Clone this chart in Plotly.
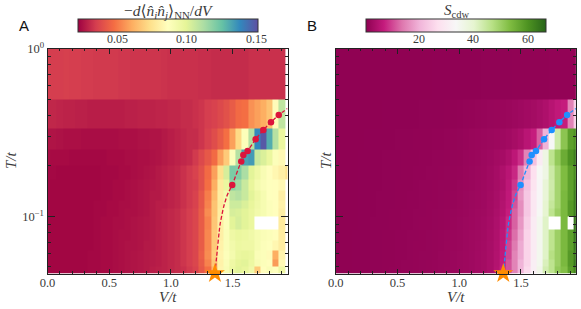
import math
import plotly.graph_objects as go
from plotly.colors import diverging

N = None
W, H = 581, 309

V_centers = [round(i * 0.05, 2) for i in range(40)]
V_edges = [round(-0.025 + i * 0.05, 3) for i in range(41)]
beta_edges = [1, 2, 3, 4, 5, 6, 7, 8, 9, 10, 12, 14, 16, 18, 20, 21.9]
T_edges = [1 / b for b in beta_edges]

# rows run from high T (top) to low T (bottom), columns V/t = 0.00 ... 1.95
dnn = [
 [.035,.035,.035,.0355,.035,.035,.0345,.0345,.034,.034,.034,.034,.0335,.0335,.033,.033,.033,.033,.033,.0325,.032,.032,.032,.032,.032,.0315,.0315,.031,.031,.031,.031,.031,.031,.032,.032,.032,.032,.032,.032,N],
 [.030,.030,.0295,.029,.029,.0285,.0285,.028,.028,.028,.028,.028,.028,.0285,.0285,.029,.029,.029,.0295,.0295,.030,.030,.031,.031,.032,.033,.035,.036,.038,.040,.043,.047,.048,.055,.058,.061,.066,.085,.108,N],
 [.026,.026,.0255,.025,.025,.025,.0245,.0245,.0245,.0245,.0245,.0245,.025,.025,.025,.0255,.0255,.026,.026,.027,.028,.029,.030,.031,.031,.033,.036,.039,.043,.048,.058,.072,.088,.110,.138,.149,.130,.110,.097,N],
 [.0245,.024,.024,.024,.0235,.0235,.0235,.0235,.0235,.0235,.024,.024,.024,.0245,.0245,.025,.025,.0255,.026,.027,.028,.029,.030,.031,.034,.038,.042,.047,.058,.068,.088,.110,.132,.134,.106,.102,.097,.088,.084,N],
 [.0235,.0235,.023,.023,.023,.023,.023,.023,.023,.0235,.0235,.0235,.024,.024,.0245,.025,.0255,.026,.027,.028,.029,.030,.032,.034,.036,.040,.047,.058,.074,.103,.121,.120,.112,.100,.095,.090,.086,.083,.080,.075],
 [.0235,.023,.023,.023,.023,.023,.023,.023,.023,.0235,.0235,.024,.024,.0245,.025,.0255,.026,.0265,.027,.028,.029,.030,.032,.034,.035,.040,.048,.061,.078,.097,.118,.114,.106,.098,.092,.089,.087,.086,.084,N],
 [.0235,.023,.023,.023,.023,.023,.023,.023,.023,.0235,.0235,.024,.024,.0245,.025,.0255,.026,.027,.027,.028,.029,.030,.032,.034,.036,.042,.051,.064,.079,.092,.108,.110,.106,.100,.095,.091,.087,.086,.080,N],
 [.023,.023,.023,.023,.023,.023,.023,.023,.0235,.0235,.024,.024,.0245,.0245,.025,.0255,.026,.027,.028,.028,.029,.030,.032,.034,.036,.042,.052,.066,.078,.090,.105,.105,.102,.098,.094,.091,.088,.086,.081,N],
 [.023,.023,.023,.023,.023,.023,.023,.023,.0235,.0235,.024,.024,.0245,.025,.025,.0255,.026,.027,.028,.029,.030,.031,.033,.035,.037,.043,.054,.066,.079,.088,.103,.102,.100,.097,.093,.091,.088,.086,.080,N],
 [.023,.023,.023,.023,.023,.023,.023,.023,.0235,.024,.024,.0245,.0245,.025,.0255,.026,.0265,.027,.028,.029,.030,.031,.033,.035,.037,.043,.052,.067,.080,.088,.100,.103,.100,.097,N,N,N,N,.078,N],
 [.023,.023,.023,.023,.023,.023,.023,.023,.0235,.024,.024,.0245,.025,.025,.0255,.026,.0265,.027,.028,.029,.030,.031,.033,.035,.037,.043,.053,.068,.080,.089,.095,.097,.096,.094,.091,.089,.088,.086,.079,N],
 [.023,.023,.023,.023,.023,.023,.023,.023,.0235,.024,.024,.0245,.025,.0255,.0255,.026,.027,.027,.028,.029,.030,.031,.033,.035,.037,.043,.053,.068,.081,.089,.093,.096,.095,.095,.091,.088,.087,.083,.079,N],
 [.023,.023,.023,.023,.023,.023,.023,.0235,.0235,.024,.024,.0245,.025,.0255,.026,.0265,.027,.0275,.028,.029,.030,.031,.033,.035,.037,.044,.054,.069,.082,.088,.092,.097,.098,.097,.089,.088,.085,.061,.082,N],
 [.023,.023,.023,.023,.023,.023,.023,.0235,.0235,.024,.024,.0245,.025,.0255,.026,.0265,.027,.0275,.028,.029,.030,.031,.033,.035,.037,.043,.052,.067,.081,.089,.095,.099,.100,.096,.090,.088,.086,.057,.084,N],
 [.023,.023,.023,.023,.023,.023,.023,.0235,.0235,.024,.024,.0245,.025,.0255,.026,.0265,.027,.028,.0285,.029,.030,.031,.032,.034,.036,.042,.048,.063,.082,.090,.096,.100,.098,.094,.068,.086,.089,.087,.095,N],
]

scdw = [
 [.5,.5,.5,.5,.5,.5,.5,.5,.5,.5,.5,.5,.5,.5,.5,.5,.6,.6,.6,.6,.6,.6,.6,.6,.7,.7,.7,.7,.7,.8,.8,.8,.8,.8,.8,.9,.9,.9,.9,.9],
 [.5,.5,.5,.5,.5,.5,.5,.5,.6,.6,.6,.6,.6,.6,.7,.7,.7,.7,.8,.8,.9,1,1.1,1.3,1.4,1.5,1.6,1.7,1.9,2.1,2.4,2.7,3,3.5,4.2,5.2,6.3,7,15,24],
 [.5,.5,.5,.5,.5,.6,.6,.6,.6,.6,.7,.7,.7,.8,.8,.8,.9,.9,1,1.1,1.2,1.4,1.6,1.7,1.9,2,2.2,2.4,2.7,3.3,4,5.5,7,12,20,33.5,44,52,58,60],
 [.5,.5,.5,.5,.6,.6,.6,.6,.7,.7,.7,.8,.8,.8,.9,.9,1,1,1.1,1.2,1.3,1.5,1.7,1.9,2.1,2.4,2.8,3.2,4.2,6,8.5,15,22,30,37,46,51,56,60,63],
 [.5,.5,.5,.5,.6,.6,.6,.6,.7,.7,.7,.8,.8,.9,.9,1,1,1.1,1.2,1.3,1.4,1.6,1.8,2,2.2,2.6,3.2,4.2,5.5,7.8,14,20,27,34,37,44,49,53.5,58,61],
 [.5,.5,.5,.5,.6,.6,.6,.6,.7,.7,.8,.8,.8,.9,1,1,1.1,1.2,1.2,1.3,1.5,1.7,1.9,2.1,2.3,2.7,3.3,4,6,9,16,22,28,33,39,43.5,49,53.5,58,62],
 [.5,.5,.5,.5,.6,.6,.6,.7,.7,.7,.8,.8,.9,.9,1,1,1.1,1.2,1.3,1.4,1.6,1.8,2,2.2,2.4,2.8,3.5,4.5,6.3,10,17,23,29,33,39,44,49,54,58,63],
 [.5,.5,.5,.5,.6,.6,.6,.7,.7,.7,.8,.8,.9,.9,1,1.1,1.1,1.2,1.3,1.4,1.6,1.8,2,2.2,2.4,2.9,3.6,4.8,6.5,11,16,23,29,33,40,45,49,54,59,63],
 [.5,.5,.5,.5,.6,.6,.6,.7,.7,.8,.8,.9,.9,1,1,1.1,1.2,1.3,1.4,1.5,1.7,1.9,2.1,2.3,2.5,3,3.8,5,7,12,16,23,29,34,40,46,50,54,59,63],
 [.5,.5,.5,.5,.6,.6,.7,.7,.7,.8,.8,.9,.9,1,1.1,1.1,1.2,1.3,1.4,1.6,1.8,2,2.2,2.4,2.7,3.2,4.1,5.5,8,12,17,24,30,35,41,N,N,54,N,64],
 [.5,.5,.5,.6,.6,.6,.7,.7,.8,.8,.9,.9,1,1,1.1,1.2,1.3,1.4,1.5,1.7,1.9,2.1,2.3,2.5,2.8,3.4,4.3,6,9,13,18,25,30,35,41,46,50,54,58,64],
 [.5,.5,.5,.6,.6,.6,.7,.7,.8,.8,.9,.9,1,1.1,1.1,1.2,1.3,1.4,1.6,1.7,1.9,2.1,2.3,2.6,2.9,3.5,4.5,6.3,10,14,19,25,30,35,41,46,50,54,58,64],
 [.5,.5,.5,.6,.6,.6,.7,.7,.8,.8,.9,.9,1,1.1,1.2,1.2,1.3,1.5,1.6,1.8,2,2.2,2.4,2.7,3,3.6,4.6,6.5,10,15,19,25,30,35,41,47,50,54,59,63],
 [.5,.5,.5,.6,.6,.6,.7,.7,.8,.8,.9,1,1,1.1,1.2,1.3,1.4,1.5,1.6,1.8,2,2.2,2.4,2.7,3,3.7,4.8,7,11,15,20,25,31,35,42,46,50,54,59,64],
 [.5,.5,.5,.6,.6,.6,.7,.7,.8,.9,.9,1,1,1.1,1.2,1.3,1.4,1.5,1.7,1.8,2,2.2,2.4,2.7,3,3.7,5,7.5,11,15,20,26,31,36,43,46,51,53,58,62],
]

# transition line
line_V = [1.357, 1.371, 1.398, 1.428, 1.457, 1.497, 1.570, 1.622, 1.687, 1.749, 1.811, 1.874, 1.945]
line_T = [0.0457, 0.0577, 0.089, 0.1144, 0.134, 0.154, 0.212, 0.245, 0.288, 0.327, 0.364, 0.402, 0.4395]
pts_V = [1.497, 1.570, 1.587, 1.622, 1.687, 1.749, 1.811, 1.874]
pts_T = [0.154, 0.212, 0.232, 0.245, 0.288, 0.327, 0.364, 0.402]
star_V = [1.357]
star_T = [0.0457]

x_ticks = [0.0, 0.5, 1.0, 1.5]
x_tick_labels = ["0.0", "0.5", "1.0", "1.5"]
x_minor = [0.1, 0.2, 0.3, 0.4, 0.6, 0.7, 0.8, 0.9, 1.1, 1.2, 1.3, 1.4, 1.6, 1.7, 1.8, 1.9]
y_ticks = [1, 0.1]
y_tick_labels = ["10<sup>0</sup>", "10<sup>−1</sup>"]
y_minor = [0.05, 0.06, 0.07, 0.08, 0.09, 0.2, 0.3, 0.4, 0.5, 0.6, 0.7, 0.8, 0.9]

SERIF = "Liberation Serif, DejaVu Serif, serif"
INK = "#3a3a3a"
T_MIN = 0.0457
V_MAX = 1.945
CB_W = 180

fig = go.Figure()


def label(text, px, py, size=14, family=SERIF, angle=0, color=INK):
    fig.add_annotation(
        text=text, x=px / W, y=1 - py / H, xref="paper", yref="paper",
        showarrow=False, font=dict(family=family, size=size, color=color),
        textangle=angle, xanchor="center", yanchor="middle",
    )


def panel(z, xa, ya, scale, zmin, zmax, cb_x, cb_vals, cb_fmt, line_color):
    fig.add_trace(go.Heatmap(
        x=V_edges, y=T_edges, z=z, xaxis=xa, yaxis=ya, colorscale=scale,
        zmin=zmin, zmax=zmax, hoverongaps=False, xgap=0, ygap=0,
        colorbar=dict(
            orientation="h", x=cb_x / W, xanchor="left", y=1 - 19.3 / H, yanchor="top",
            len=CB_W, lenmode="pixels", thickness=13.4, thicknessmode="pixels",
            xpad=0, ypad=0, outlinewidth=1, outlinecolor="#333", ticks="",
            showticklabels=False,
        ),
    ))
    for v in cb_vals:
        label(cb_fmt.format(v), cb_x + (v - zmin) / (zmax - zmin) * CB_W, 39.5, 12)
    fig.add_trace(go.Scatter(
        x=line_V, y=line_T, xaxis=xa, yaxis=ya, mode="lines",
        line=dict(color=line_color, width=1.3, dash="4px,2px", shape="spline", smoothing=0.6),
        showlegend=False,
    ))
    fig.add_trace(go.Scatter(
        x=pts_V, y=pts_T, xaxis=xa, yaxis=ya, mode="markers",
        marker=dict(color=line_color, size=6.5), showlegend=False,
    ))
    fig.add_trace(go.Scatter(
        x=star_V, y=star_T, xaxis=xa, yaxis=ya, mode="markers", cliponaxis=False,
        marker=dict(color="#ff8c00", size=15, symbol="star", line=dict(width=0)),
        showlegend=False,
    ))


panel(dnn, "x", "y", diverging.Spectral, 0.022, 0.151, 78, [0.05, 0.10, 0.15], "{:.2f}", "#dc143c")
panel(scdw, "x2", "y2", diverging.PiYG, 0.3, 66.8, 366, [20, 40, 60], "{:g}", "#1e90ff")

axis_common = dict(
    showgrid=False, zeroline=False, ticks="inside", mirror="allticks",
    showline=True, linecolor="#222", linewidth=1, tickcolor="#222", tickwidth=1,
    tickfont=dict(family=SERIF, size=12.5, color=INK),
)
x_common = dict(
    range=[0, V_MAX], tickmode="array", tickvals=x_ticks, ticktext=x_tick_labels, ticklen=5,
    ticklabelstandoff=-3,
    minor=dict(tickmode="array", tickvals=x_minor, ticks="inside", ticklen=2.5, tickcolor="#222", tickwidth=0.8, showgrid=False),
    **axis_common,
)
y_common = dict(
    type="log", range=[math.log10(T_MIN), 0], tickmode="array", tickvals=y_ticks, ticklen=7,
    minor=dict(tickmode="array", tickvals=y_minor, ticks="inside", ticklen=3, tickcolor="#222", tickwidth=0.8, showgrid=False),
    **axis_common,
)

y_dom = [1 - 273.5 / H, 1 - 48.5 / H]
fig.update_layout(
    width=W, height=H, margin=dict(l=0, r=0, t=0, b=0, autoexpand=False),
    paper_bgcolor="white", plot_bgcolor="white", showlegend=False,
    font=dict(family=SERIF, color=INK),
    xaxis=dict(domain=[47.5 / W, 287.5 / W], anchor="y", **x_common),
    yaxis=dict(domain=y_dom, anchor="x", ticktext=y_tick_labels, **y_common),
    xaxis2=dict(domain=[335.7 / W, 575.9 / W], anchor="y2", **x_common),
    yaxis2=dict(domain=y_dom, anchor="x2", showticklabels=False, **y_common),
)

label("A", 23.5, 25, 15, "Liberation Sans, Arial, sans-serif", color="#111")
label("B", 311.5, 25, 15, "Liberation Sans, Arial, sans-serif", color="#111")
label("−<i>d</i>⟨<i>n̂<sub>i</sub>n̂<sub>j</sub></i>⟩<sub>NN</sub>/<i>dV</i>", 168, 11, 15.5)
label("<i>S</i><sub>cdw</sub>", 456, 11, 15)
label("<i>V/t</i>", 168, 297, 15)
label("<i>V/t</i>", 456, 297, 15)
label("<i>T/t</i>", 11, 160, 15, angle=-90)
label("<i>T/t</i>", 326, 160, 15, angle=-90)

fig.write_html(
    "out.html",
    config={"displayModeBar": False},
    post_script="document.body.style.margin='0';document.body.style.overflow='hidden';",
)
